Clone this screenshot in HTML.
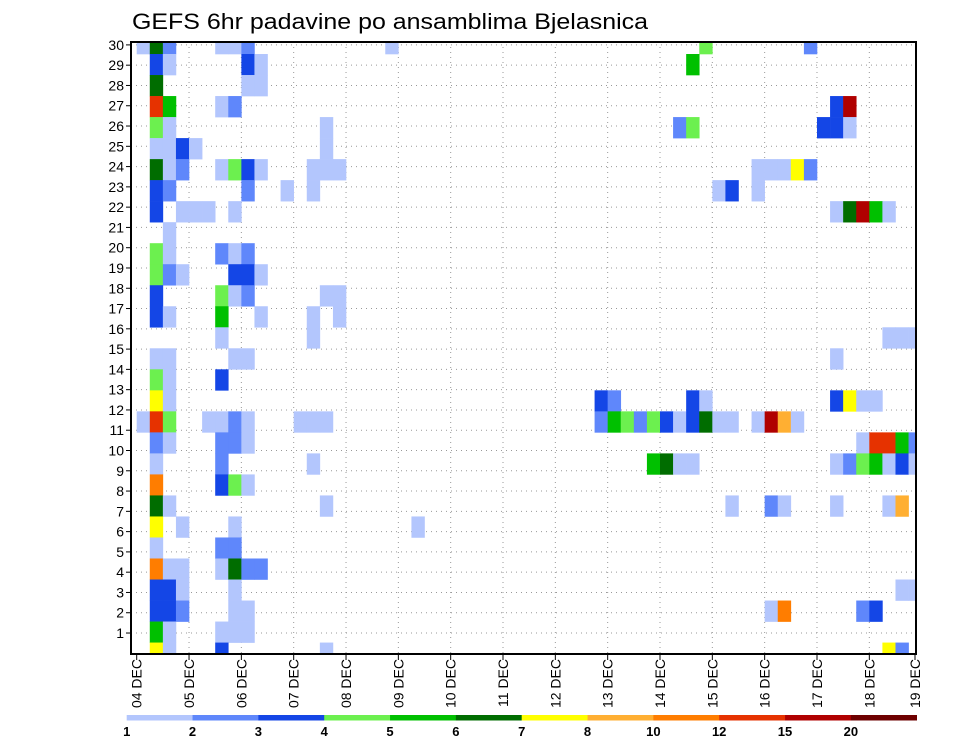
<!DOCTYPE html>
<html>
<head>
<meta charset="utf-8">
<style>
html,body{margin:0;padding:0;background:#fff;}
svg{display:block;}
text{font-family:"Liberation Sans",sans-serif;}
</style>
</head>
<body>
<svg id="chart" width="960" height="742" viewBox="0 0 960 742">
  <text x="132" y="29" font-size="22" textLength="516" lengthAdjust="spacingAndGlyphs" fill="#000">GEFS 6hr padavine po ansamblima Bjelasnica</text>
  <defs><clipPath id="plotclip"><rect x="131" y="42" width="785" height="612"/></clipPath></defs>
  <g id="grid"></g>
  <g id="cells" clip-path="url(#plotclip)"></g>
  <rect x="131" y="42" width="785" height="612" fill="none" stroke="#000" stroke-width="2"/>
  <g id="yaxis"></g>
  <g id="xaxis"></g>
  <g id="legend"></g>
</svg>
<script>
// ---- data ----
const dayLabels = ["04 DEC","05 DEC","06 DEC","07 DEC","08 DEC","09 DEC","10 DEC","11 DEC","12 DEC","13 DEC","14 DEC","15 DEC","16 DEC","17 DEC","18 DEC","19 DEC"];
const memberLabels = [1,2,3,4,5,6,7,8,9,10,11,12,13,14,15,16,17,18,19,20,21,22,23,24,25,26,27,28,29,30];
const levelLabels = ["1","2","3","4","5","6","7","8","10","12","15","20"];
const levelColors = ["#b3c6fd","#5f87fb","#1446e6","#6cf04f","#00c000","#006d00","#ffff00","#ffaf32","#ff7d00","#e63200","#b00000","#6e0000"];
// rows from top (j=0) to bottom; entries "column:level" (level codes 1-9,a,b,c)
const rowCells = [
"0:1 1:6 2:2 6:1 7:1 8:2 19:1 43:4 51:2",
"1:3 2:1 8:3 9:1 42:5",
"1:6 8:1 9:1",
"1:a 2:5 6:1 7:2 53:3 54:b",
"1:4 2:1 14:1 41:2 42:4 52:3 53:3 54:1",
"1:1 2:1 3:3 4:1 14:1",
"1:6 2:1 3:2 6:1 7:4 8:3 9:1 13:1 14:1 15:1 47:1 48:1 49:1 50:7 51:2",
"1:3 2:2 8:2 11:1 13:1 44:1 45:3 47:1",
"1:3 3:1 4:1 5:1 7:1 53:1 54:6 55:b 56:5 57:1",
"2:1",
"1:4 2:1 6:2 7:1 8:2",
"1:4 2:2 3:1 7:3 8:3 9:1",
"1:3 6:4 7:1 8:2 14:1 15:1",
"1:3 2:1 6:5 9:1 13:1 15:1",
"6:1 13:1 57:1 58:1 59:1",
"1:1 2:1 7:1 8:1 53:1",
"1:4 2:1 6:3",
"1:7 2:1 35:3 36:2 42:3 43:1 53:3 54:7 55:1 56:1",
"0:1 1:a 2:4 5:1 6:1 7:2 8:1 12:1 13:1 14:1 35:2 36:5 37:4 38:2 39:4 40:3 41:1 42:3 43:6 44:1 45:1 47:1 48:b 49:8 50:1",
"1:2 2:1 6:2 7:2 8:1 55:1 56:a 57:a 58:5 59:2",
"1:1 6:2 13:1 39:5 40:6 41:1 42:1 53:1 54:2 55:4 56:5 57:1 58:3 59:1",
"1:9 6:3 7:4 8:1",
"1:6 2:1 14:1 45:1 48:2 49:1 53:1 57:1 58:8",
"1:7 3:1 7:1 21:1",
"1:1 6:2 7:2",
"1:9 2:1 3:1 6:1 7:6 8:2 9:2",
"1:3 2:3 3:1 7:1 58:1 59:1",
"1:3 2:3 3:2 7:1 8:1 48:1 49:9 55:2 56:3",
"1:5 2:1 6:1 7:1 8:1",
"1:7 2:1 6:3 14:1 57:7 58:2"
];

// ---- scales ----
const NS="http://www.w3.org/2000/svg";
const X0=136.7, DAYW=52.33, CW=DAYW/4;
const PL=131, PR=916, PT=42, PB=654;
function xCol(c){return X0+c*CW;}
function xDay(d){return Math.min(X0+d*DAYW, 915);}
const RH=21.02;
function yRow(j){return 43.5+j*RH;}
function yMember(m){return 653.3-(m)*20.28;}
function mk(tag,attrs,parent){const e=document.createElementNS(NS,tag);for(const k in attrs)e.setAttribute(k,attrs[k]);parent.appendChild(e);return e;}

// grid
const grid=document.getElementById('grid');
for(let d=1; d<dayLabels.length-1; d++){
  const l=mk('line',{x1:xDay(d),x2:xDay(d),y1:PT,y2:PB,stroke:'#999','stroke-width':1,'stroke-dasharray':'1,4'},grid);
  
  
}
memberLabels.forEach(m=>{
  const l=mk('line',{x1:PL,x2:PR,y1:yMember(m),y2:yMember(m),stroke:'#999','stroke-width':1,'stroke-dasharray':'1,4'},grid);
  
  
});

// cells
const cg=document.getElementById('cells');
const codeMap="123456789abc";
rowCells.forEach((row,j)=>{
  if(!row) return;
  row.split(' ').forEach(tok=>{
    const [c,l]=tok.split(':');
    const lv=codeMap.indexOf(l);
    const r=mk('rect',{x:xCol(+c),y:yRow(j)-RH/2,width:CW+0.3,height:RH+0.3,fill:levelColors[lv]},cg);
    
    
  });
});

// y axis
const ya=document.getElementById('yaxis');
memberLabels.forEach(m=>{
  const y=yMember(m);
  const t=mk('line',{x1:PL-5,x2:PL,y1:y,y2:y,stroke:'#000','stroke-width':1},ya);
  
  
  const tx=mk('text',{x:PL-7,y:y+5,'font-size':14,'text-anchor':'end',fill:'#000'},ya);
  tx.textContent=m;
  
  
});

// x axis
const xa=document.getElementById('xaxis');
dayLabels.forEach((lab,d)=>{
  const x=xDay(d);
  const t=mk('line',{x1:x,x2:x,y1:PB,y2:PB+6,stroke:'#000','stroke-width':1},xa);
  
  
  const tx=mk('text',{x:0,y:0,'font-size':14,'text-anchor':'end',fill:'#000',transform:`translate(${x+5},${PB+5}) rotate(-90)`},xa);
  tx.textContent=lab;
  
  
});

// legend
const lg=document.getElementById('legend');
const LX0=126.7, LX1=916.7, LW=(LX1-LX0)/levelColors.length;
levelColors.forEach((col,i)=>{
  const r=mk('rect',{x:LX0+i*LW,y:715,width:LW+0.3,height:5.5,fill:col},lg);
  
  
});
levelLabels.forEach((lab,i)=>{
  const tx=mk('text',{x:LX0+i*LW,y:736,'font-size':13,'font-weight':'bold','text-anchor':'middle',fill:'#000'},lg);
  tx.textContent=lab;
  
  
});
</script>
</body>
</html>
